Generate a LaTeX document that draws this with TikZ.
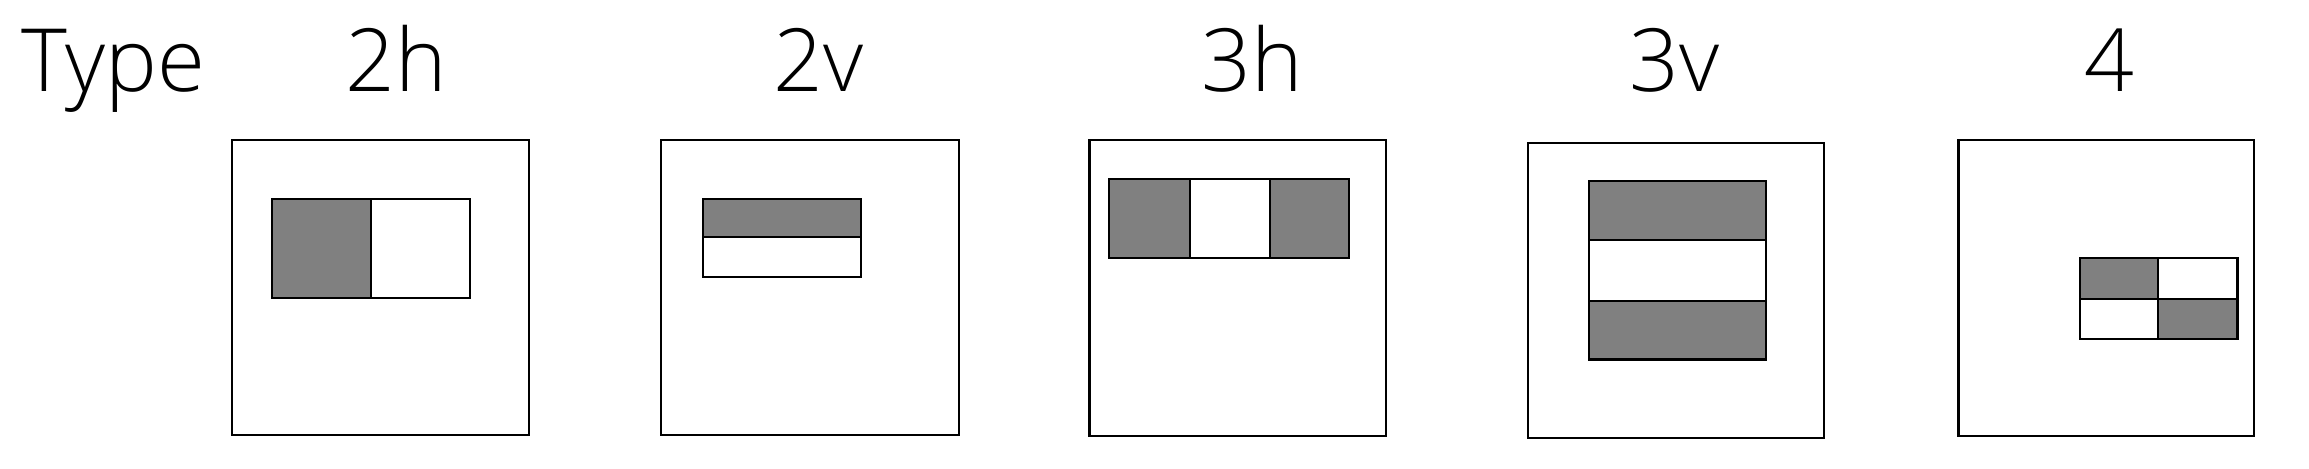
\documentclass[tikz,border=0pt]{standalone}
\usepackage{fontspec}
\setmainfont{Open Sans}[UprightFont=* Light]

\begin{document}
\begin{tikzpicture}[x=0.1mm, y=-0.1mm, line width=0.6pt,
	every node/.style={font=\fontsize{25}{30}\selectfont, inner sep=0pt, anchor=base},
	frame/.style={draw, fill=white},
	dark/.style={draw, fill=gray},
	light/.style={draw, fill=white}]
	\useasboundingbox (0,0) rectangle (2325,472);
	% header
	\node (type) at (114,92) {Type};
	\node (t2h) at (399,92) {2h};
	\node (t2v) at (824,92) {2v};
	\node (t3h) at (1261,92) {3h};
	\node (t3v) at (1686,92) {3v};
	\node (t4) at (2124,92) {4};
	% 2h
	\draw[frame] (234,141) rectangle (533,438);
	\draw[dark] (274,200) rectangle (374,300);
	\draw[light] (374,200) rectangle (473,300);
	% 2v
	\draw[frame] (666,141) rectangle (966,438);
	\draw[dark] (708,200) rectangle (867,239);
	\draw[light] (708,239) rectangle (867,279);
	% 3h
	\draw[frame] (1097,141) rectangle (1396,439);
	\draw[dark] (1117,180) rectangle (1198,260);
	\draw[light] (1198,180) rectangle (1279,260);
	\draw[dark] (1279,180) rectangle (1358,260);
	% 3v
	\draw[frame] (1539,144) rectangle (1837,441);
	\draw[dark] (1600,182) rectangle (1778,242);
	\draw[light] (1600,242) rectangle (1778,303);
	\draw[dark] (1600,303) rectangle (1778,362);
	% 4
	\draw[frame] (1972,141) rectangle (2270,439);
	\draw[dark] (2094,260) rectangle (2173,301);
	\draw[light] (2173,260) rectangle (2253,301);
	\draw[light] (2094,301) rectangle (2173,341);
	\draw[dark] (2173,301) rectangle (2253,341);
\end{tikzpicture}
\end{document}
